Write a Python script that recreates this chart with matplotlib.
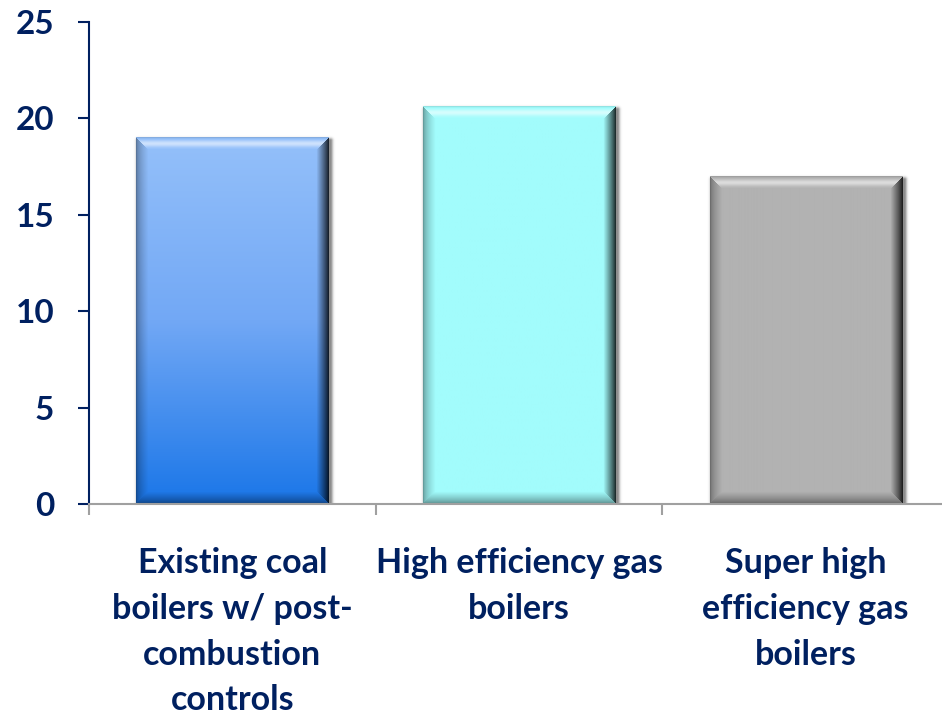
import numpy as np
import matplotlib
matplotlib.use("Agg")
import matplotlib.pyplot as plt
from matplotlib.colors import to_rgb

# Chart data
categories = [
    "Existing coal\nboilers w/ post-\ncombustion\ncontrols",
    "High efficiency gas\nboilers",
    "Super high\nefficiency gas\nboilers",
]
values = [19.0, 20.6, 17.0]
y_ticks = [0, 5, 10, 15, 20, 25]

# Vertical colour stops for each bar face (top, middle, bottom)
face_stops = [
    ["#94c0fa", "#72a8f5", "#1a76e8"],
    ["#a2fcfc", "#a2fcfc", "#a2fcfc"],
    ["#b2b2b2", "#b2b2b2", "#b2b2b2"],
]

NAVY = "#002060"
FONT = "Lato"
W, H, DPI = 942, 715, 100
BAR_WIDTH = 0.67

fig = plt.figure(figsize=(W / DPI, H / DPI), dpi=DPI)
ax = fig.add_axes([89 / W, 211 / H, 860 / W, 482.3 / H])
ax.set_xlim(-0.5, 2.5)
ax.set_ylim(0, 25)

# pixels per data unit
px_x = 860 / 3.0
px_y = 482.3 / 25.0


def gradient(stops, h):
    t = np.linspace(0, 1, h)
    cols = np.array([to_rgb(c) for c in stops])
    pos = np.linspace(0, 1, len(cols))
    return np.stack([np.interp(t, pos, cols[:, k]) for k in range(3)], axis=1)


def bevel_face(w, h, stops, b=12):
    yy, xx = np.mgrid[0:h, 0:w].astype(float)
    base = np.repeat(gradient(stops, h)[:, None, :], w, axis=1)
    d = np.stack([yy, h - 1 - yy, xx, w - 1 - xx])
    side = d.argmin(0)
    s = np.clip(d.min(0) / b, 0, 1)
    inb = d.min(0) < b
    img = base.copy()
    # top edge: bright highlight band
    m = inb & (side == 0)
    lift = 0.55 * np.exp(-((s - 0.5) / 0.28) ** 2) - 0.12 * (1 - s) ** 4
    img[m] = base[m] + (1 - base[m]) * np.clip(lift[m], 0, 1)[:, None] + np.minimum(lift[m], 0)[:, None] * base[m]
    # bottom edge: darker
    m = inb & (side == 1)
    f = 0.55 + 0.45 * s ** 0.7
    img[m] = base[m] * f[m][:, None]
    # left edge: slightly darker
    m = inb & (side == 2)
    f = 0.62 + 0.38 * s ** 0.6
    img[m] = base[m] * f[m][:, None]
    # right edge: strong shadow
    m = inb & (side == 3)
    f = 0.18 + 0.82 * s ** 0.9
    img[m] = base[m] * f[m][:, None]
    return np.clip(img, 0, 1)


def soft_shadow(w, h, pad=8, dx=2, dy=3):
    yy, xx = np.mgrid[0:h + 2 * pad, 0:w + 2 * pad].astype(float)
    x0, x1 = pad + dx, pad + dx + w - 1
    y0, y1 = pad + dy, pad + dy + h - 1
    ddx = np.maximum(np.maximum(x0 - xx, xx - x1), 0)
    ddy = np.maximum(np.maximum(y0 - yy, yy - y1), 0)
    dist = np.hypot(ddx, ddy)
    alpha = 0.45 * np.exp(-(dist / 2.5) ** 2)
    rgba = np.zeros((h + 2 * pad, w + 2 * pad, 4))
    rgba[..., 3] = alpha
    return rgba, pad


for i, (v, stops) in enumerate(zip(values, face_stops)):
    left, right = i - BAR_WIDTH / 2, i + BAR_WIDTH / 2
    wpx = int(round(BAR_WIDTH * px_x))
    hpx = int(round(v * px_y))
    shadow, pad = soft_shadow(wpx, hpx)
    ax.imshow(shadow, extent=(left - pad / px_x, right + pad / px_x,
                              -pad / px_y, v + pad / px_y),
              aspect="auto", origin="upper", zorder=1, interpolation="bilinear")
    ax.imshow(bevel_face(wpx, hpx, stops), extent=(left, right, 0, v),
              aspect="auto", origin="upper", zorder=2, interpolation="bilinear")

ax.set_xlim(-0.5, 2.5)
ax.set_ylim(0, 25)

# Axes styling
for sp in ("top", "right"):
    ax.spines[sp].set_visible(False)
ax.spines["left"].set_color(NAVY)
ax.spines["left"].set_linewidth(1.5)
ax.spines["bottom"].set_color("#a0a0a0")
ax.spines["bottom"].set_linewidth(1.5)
ax.spines["bottom"].set_zorder(3)

ax.set_yticks(y_ticks)
ax.set_yticklabels([str(t) for t in y_ticks], fontfamily=FONT,
                   fontweight="bold", fontsize=24, color=NAVY)
ax.tick_params(axis="y", length=8, width=1.5, color=NAVY, pad=17)

ax.set_xticks([0, 1, 2])
ax.set_xticklabels(categories, fontfamily=FONT, fontweight="bold",
                   fontsize=24.5, color=NAVY, linespacing=1.53)
ax.set_xticks([-0.5, 0.5, 1.5, 2.5], minor=True)
ax.tick_params(axis="x", which="major", length=0, pad=31)
ax.tick_params(axis="x", which="minor", length=8, width=1.5, color="#a0a0a0")

fig.savefig("out.png", dpi=DPI)
